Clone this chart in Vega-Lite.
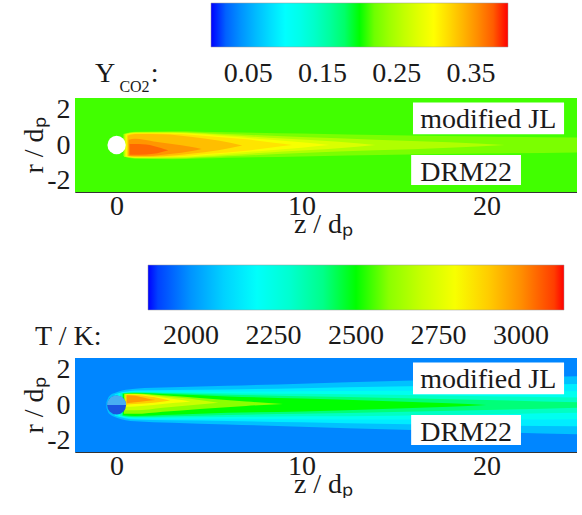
{
"$schema":"https://vega.github.io/schema/vega-lite/v6.json",
"padding":{"left":20,"top":3,"right":0,"bottom":0},
"background":"white",
"bounds":"flush",
"spacing":166,
"config":{
 "view":{"stroke":null},
 "font":"Liberation Serif",
 "axis":{"labelFont":"Liberation Serif","labelFontSize":28,"labelColor":"#1a1a1a","titleFont":"Liberation Serif","titleFontSize":28,"titleFontWeight":"normal","titleColor":"#1a1a1a","grid":false,"domainColor":"#333","domainWidth":1,"tickColor":"#333","tickSize":-4,"labelFlush":false},
 "legend":{"labelFont":"Liberation Serif","labelFontSize":28,"labelColor":"#1a1a1a","labelOverlap":false,"gradientStrokeColor":"#999","gradientStrokeWidth":0.5,"padding":0},
 "text":{"font":"Liberation Serif","color":"#1a1a1a"}
},
"resolve":{"scale":{"color":"independent","x":"independent","y":"independent"},"legend":{"color":"independent"}},
"vconcat":[
{
 "width":502,"height":94,
 "layer":[
  {
   "data":{"values":[
    {"lev":0.207,"z":-2.25,"lo":-2.65,"hi":2.65},{"lev":0.207,"z":24.9,"lo":-2.65,"hi":2.65},
    {"lev":0.225,"z":0.35,"lo":-0.62,"hi":0.62},{"lev":0.225,"z":1,"lo":-0.78,"hi":0.75},{"lev":0.225,"z":3,"lo":-0.8,"hi":0.78},{"lev":0.225,"z":6,"lo":-0.72,"hi":0.72},{"lev":0.225,"z":10,"lo":-0.65,"hi":0.65},{"lev":0.225,"z":15,"lo":-0.55,"hi":0.55},{"lev":0.225,"z":20,"lo":-0.48,"hi":0.48},{"lev":0.225,"z":24.9,"lo":-0.42,"hi":0.42},
    {"lev":0.25,"z":0.4,"lo":-0.66,"hi":0.62},{"lev":0.25,"z":1,"lo":-0.74,"hi":0.72},{"lev":0.25,"z":3,"lo":-0.76,"hi":0.74},{"lev":0.25,"z":6,"lo":-0.64,"hi":0.62},{"lev":0.25,"z":10,"lo":-0.45,"hi":0.45},{"lev":0.25,"z":14,"lo":-0.3,"hi":0.3},{"lev":0.25,"z":18,"lo":-0.15,"hi":0.15},{"lev":0.25,"z":21,"lo":0,"hi":0},
    {"lev":0.275,"z":0.45,"lo":-0.65,"hi":0.6},{"lev":0.275,"z":1,"lo":-0.72,"hi":0.7},{"lev":0.275,"z":3,"lo":-0.72,"hi":0.7},{"lev":0.275,"z":6,"lo":-0.56,"hi":0.55},{"lev":0.275,"z":9,"lo":-0.36,"hi":0.36},{"lev":0.275,"z":12,"lo":-0.18,"hi":0.18},{"lev":0.275,"z":14,"lo":0,"hi":0},
    {"lev":0.295,"z":0.5,"lo":-0.64,"hi":0.58},{"lev":0.295,"z":1,"lo":-0.7,"hi":0.68},{"lev":0.295,"z":3,"lo":-0.68,"hi":0.67},{"lev":0.295,"z":5.5,"lo":-0.52,"hi":0.52},{"lev":0.295,"z":8,"lo":-0.32,"hi":0.32},{"lev":0.295,"z":10,"lo":-0.15,"hi":0.15},{"lev":0.295,"z":11.5,"lo":0,"hi":0},
    {"lev":0.315,"z":0.55,"lo":-0.63,"hi":0.56},{"lev":0.315,"z":1,"lo":-0.68,"hi":0.66},{"lev":0.315,"z":3,"lo":-0.66,"hi":0.64},{"lev":0.315,"z":5,"lo":-0.5,"hi":0.5},{"lev":0.315,"z":7,"lo":-0.32,"hi":0.32},{"lev":0.315,"z":8.5,"lo":-0.12,"hi":0.12},{"lev":0.315,"z":9.5,"lo":0,"hi":0},
    {"lev":0.335,"z":0.6,"lo":-0.62,"hi":0.52},{"lev":0.335,"z":1,"lo":-0.66,"hi":0.62},{"lev":0.335,"z":2.5,"lo":-0.63,"hi":0.6},{"lev":0.335,"z":4,"lo":-0.5,"hi":0.46},{"lev":0.335,"z":5.5,"lo":-0.3,"hi":0.25},{"lev":0.335,"z":6.8,"lo":-0.03,"hi":-0.03},
    {"lev":0.355,"z":0.65,"lo":-0.6,"hi":0.3},{"lev":0.355,"z":1,"lo":-0.62,"hi":0.35},{"lev":0.355,"z":2,"lo":-0.6,"hi":0.2},{"lev":0.355,"z":3,"lo":-0.5,"hi":0.05},{"lev":0.355,"z":4,"lo":-0.35,"hi":-0.1},{"lev":0.355,"z":4.6,"lo":-0.22,"hi":-0.22},
    {"lev":0.375,"z":0.7,"lo":-0.55,"hi":0.05},{"lev":0.375,"z":1.2,"lo":-0.55,"hi":0.05},{"lev":0.375,"z":2,"lo":-0.5,"hi":-0.05},{"lev":0.375,"z":2.8,"lo":-0.3,"hi":-0.3}
   ]},
   "mark":{"type":"area","interpolate":"monotone"},
   "encoding":{
    "x":{"field":"z","type":"quantitative","scale":{"domain":[-2.25,24.9],"nice":false,"zero":false},"axis":{"values":[0,10,20],"title":"z / dₚ","titleX":248,"titleY":40,"titleBaseline":"alphabetic","labelBaseline":"alphabetic","labelPadding":26}},
    "y":{"field":"lo","type":"quantitative","stack":null,"scale":{"domain":[-2.65,2.65],"nice":false,"zero":false},"axis":{"values":[-2,0,2],"title":"r / dₚ","titleX":-33,"titleY":47,"titleAngle":-90,"titleBaseline":"alphabetic","titleAlign":"center","labelPadding":9,"labelExpr":"replace(datum.label,'−','-')"}},
    "y2":{"field":"hi"},
    "detail":{"field":"lev"},
    "color":{"field":"lev","type":"quantitative","scale":{"domain":[0,0.1,0.2,0.3,0.4],"range":["#0000ff","#00ffff","#00ff00","#ffff00","#ff0000"]},
     "legend":{"orient":"none","legendX":136,"legendY":-95,"direction":"horizontal","gradientLength":297,"gradientThickness":44,"title":null,"values":[0.05,0.15,0.25,0.35],"format":".2f","labelOffset":13}}
   }
  },
  {"data":{"values":[{}]},"mark":{"type":"point","shape":"circle","filled":true,"color":"white","opacity":1,"size":336},
   "encoding":{"x":{"datum":0,"type":"quantitative"},"y":{"datum":0,"type":"quantitative"}}},
  {"data":{"values":[{}]},"mark":{"type":"rect","color":"white"},
   "encoding":{"x":{"datum":16.03,"type":"quantitative"},"x2":{"datum":24.2},"y":{"datum":2.4,"type":"quantitative"},"y2":{"datum":0.6}}},
  {"data":{"values":[{}]},"mark":{"type":"rect","color":"white"},
   "encoding":{"x":{"datum":15.93,"type":"quantitative"},"x2":{"datum":21.87},"y":{"datum":-0.56,"type":"quantitative"},"y2":{"datum":-2.25}}},
  {"data":{"values":[{}]},"mark":{"type":"text","text":"modified JL","fontSize":28,"align":"center","baseline":"alphabetic"},
   "encoding":{"x":{"datum":20.1,"type":"quantitative"},"y":{"datum":0.96,"type":"quantitative"}}},
  {"data":{"values":[{}]},"mark":{"type":"text","text":"DRM22","fontSize":28,"align":"center","baseline":"alphabetic"},
   "encoding":{"x":{"datum":18.9,"type":"quantitative"},"y":{"datum":-2.03,"type":"quantitative"}}},
  {"data":{"values":[{}]},"mark":{"type":"text","text":"Y","fontSize":28,"align":"left","baseline":"alphabetic"},
   "encoding":{"x":{"datum":-1.17,"type":"quantitative"},"y":{"datum":3.55,"type":"quantitative"}}},
  {"data":{"values":[{}]},"mark":{"type":"text","text":"CO2","fontSize":16,"align":"left","baseline":"alphabetic"},
   "encoding":{"x":{"datum":0.15,"type":"quantitative"},"y":{"datum":2.99,"type":"quantitative"}}},
  {"data":{"values":[{}]},"mark":{"type":"text","text":":","fontSize":28,"align":"left","baseline":"alphabetic"},
   "encoding":{"x":{"datum":1.85,"type":"quantitative"},"y":{"datum":3.55,"type":"quantitative"}}}
 ]
},
{
 "width":502,"height":94,
 "layer":[
  {
   "data":{"values":[
    {"lev":1980,"z":-2.25,"lo":-2.65,"hi":2.65},{"lev":1980,"z":24.9,"lo":-2.65,"hi":2.65},
    {"lev":2070,"z":-0.55,"lo":-0.15,"hi":0.15},{"lev":2070,"z":-0.4,"lo":-0.5,"hi":0.5},{"lev":2070,"z":0,"lo":-0.72,"hi":0.72},{"lev":2070,"z":1,"lo":-0.92,"hi":0.92},{"lev":2070,"z":3,"lo":-1.0,"hi":1.0},{"lev":2070,"z":6,"lo":-1.1,"hi":1.08},{"lev":2070,"z":10,"lo":-1.22,"hi":1.2},{"lev":2070,"z":15,"lo":-1.38,"hi":1.35},{"lev":2070,"z":20,"lo":-1.52,"hi":1.5},{"lev":2070,"z":24.9,"lo":-1.65,"hi":1.62},
    {"lev":2150,"z":-0.1,"lo":-0.6,"hi":0.6},{"lev":2150,"z":1,"lo":-0.82,"hi":0.82},{"lev":2150,"z":3,"lo":-0.86,"hi":0.85},{"lev":2150,"z":6,"lo":-0.9,"hi":0.88},{"lev":2150,"z":10,"lo":-0.97,"hi":0.95},{"lev":2150,"z":15,"lo":-1.07,"hi":1.05},{"lev":2150,"z":20,"lo":-1.15,"hi":1.12},{"lev":2150,"z":24.9,"lo":-1.2,"hi":1.18},
    {"lev":2230,"z":0.1,"lo":-0.64,"hi":0.66},{"lev":2230,"z":1,"lo":-0.76,"hi":0.76},{"lev":2230,"z":3,"lo":-0.77,"hi":0.76},{"lev":2230,"z":6,"lo":-0.78,"hi":0.76},{"lev":2230,"z":10,"lo":-0.8,"hi":0.78},{"lev":2230,"z":15,"lo":-0.82,"hi":0.8},{"lev":2230,"z":20,"lo":-0.82,"hi":0.8},{"lev":2230,"z":24.9,"lo":-0.8,"hi":0.78},
    {"lev":2320,"z":0.2,"lo":-0.62,"hi":0.66},{"lev":2320,"z":1,"lo":-0.72,"hi":0.72},{"lev":2320,"z":3,"lo":-0.7,"hi":0.7},{"lev":2320,"z":6,"lo":-0.67,"hi":0.66},{"lev":2320,"z":10,"lo":-0.64,"hi":0.63},{"lev":2320,"z":15,"lo":-0.6,"hi":0.58},{"lev":2320,"z":20,"lo":-0.52,"hi":0.5},{"lev":2320,"z":24.9,"lo":-0.44,"hi":0.42},
    {"lev":2420,"z":0.3,"lo":-0.6,"hi":0.65},{"lev":2420,"z":1,"lo":-0.68,"hi":0.7},{"lev":2420,"z":3,"lo":-0.64,"hi":0.66},{"lev":2420,"z":6,"lo":-0.56,"hi":0.58},{"lev":2420,"z":10,"lo":-0.5,"hi":0.5},{"lev":2420,"z":15,"lo":-0.4,"hi":0.4},{"lev":2420,"z":20,"lo":-0.28,"hi":0.28},{"lev":2420,"z":24.9,"lo":-0.15,"hi":0.15},
    {"lev":2500,"z":0.35,"lo":-0.58,"hi":0.64},{"lev":2500,"z":1,"lo":-0.62,"hi":0.68},{"lev":2500,"z":3,"lo":-0.55,"hi":0.6},{"lev":2500,"z":6,"lo":-0.44,"hi":0.48},{"lev":2500,"z":10,"lo":-0.36,"hi":0.36},{"lev":2500,"z":14,"lo":-0.24,"hi":0.24},{"lev":2500,"z":18,"lo":-0.1,"hi":0.1},{"lev":2500,"z":20,"lo":0,"hi":0},
    {"lev":2600,"z":0.4,"lo":-0.5,"hi":0.63},{"lev":2600,"z":1,"lo":-0.5,"hi":0.65},{"lev":2600,"z":2.5,"lo":-0.38,"hi":0.55},{"lev":2600,"z":4.5,"lo":-0.22,"hi":0.4},{"lev":2600,"z":7,"lo":-0.05,"hi":0.2},{"lev":2600,"z":9,"lo":0.05,"hi":0.05},
    {"lev":2700,"z":0.45,"lo":-0.3,"hi":0.62},{"lev":2700,"z":1,"lo":-0.3,"hi":0.62},{"lev":2700,"z":2.5,"lo":-0.15,"hi":0.5},{"lev":2700,"z":4,"lo":-0.02,"hi":0.35},{"lev":2700,"z":5.5,"lo":0.12,"hi":0.12},
    {"lev":2800,"z":0.5,"lo":-0.1,"hi":0.6},{"lev":2800,"z":1,"lo":-0.08,"hi":0.6},{"lev":2800,"z":2,"lo":0,"hi":0.5},{"lev":2800,"z":3.2,"lo":0.12,"hi":0.32},{"lev":2800,"z":4,"lo":0.2,"hi":0.2},
    {"lev":2900,"z":0.5,"lo":0.02,"hi":0.58},{"lev":2900,"z":1,"lo":0.05,"hi":0.57},{"lev":2900,"z":2,"lo":0.12,"hi":0.45},{"lev":2900,"z":2.9,"lo":0.25,"hi":0.25},
    {"lev":2980,"z":0.55,"lo":0.1,"hi":0.55},{"lev":2980,"z":1,"lo":0.15,"hi":0.52},{"lev":2980,"z":1.6,"lo":0.22,"hi":0.38},{"lev":2980,"z":2.1,"lo":0.28,"hi":0.28}
   ]},
   "mark":{"type":"area","interpolate":"monotone"},
   "encoding":{
    "x":{"field":"z","type":"quantitative","scale":{"domain":[-2.25,24.9],"nice":false,"zero":false},"axis":{"values":[0,10,20],"title":"z / dₚ","titleX":248,"titleY":40,"titleBaseline":"alphabetic","labelBaseline":"alphabetic","labelPadding":26}},
    "y":{"field":"lo","type":"quantitative","stack":null,"scale":{"domain":[-2.65,2.65],"nice":false,"zero":false},"axis":{"values":[-2,0,2],"title":"r / dₚ","titleX":-33,"titleY":47,"titleAngle":-90,"titleBaseline":"alphabetic","titleAlign":"center","labelPadding":9,"labelExpr":"replace(datum.label,'−','-')"}},
    "y2":{"field":"hi"},
    "detail":{"field":"lev"},
    "color":{"field":"lev","type":"quantitative","scale":{"domain":[1870,2185,2500,2815,3130],"range":["#0000ff","#00ffff","#00ff00","#ffff00","#ff0000"]},
     "legend":{"orient":"none","legendX":73,"legendY":-93,"direction":"horizontal","gradientLength":416,"gradientThickness":45,"title":null,"values":[2000,2250,2500,2750,3000],"format":"d","labelOffset":12}}
   }
  },
  {"data":{"values":[{}]},"mark":{"type":"point","shape":"circle","filled":true,"color":"#1a55e0","opacity":1,"size":361},
   "encoding":{"x":{"datum":0,"type":"quantitative"},"y":{"datum":0,"type":"quantitative"}}},
  {"data":{"values":[{}]},"mark":{"type":"point","shape":"M-1,0A1,1,0,0,1,1,0Z","filled":true,"color":"#48aef2","opacity":1,"size":361},
   "encoding":{"x":{"datum":0,"type":"quantitative"},"y":{"datum":0,"type":"quantitative"}}},
  {"data":{"values":[{}]},"mark":{"type":"rect","color":"white"},
   "encoding":{"x":{"datum":16.03,"type":"quantitative"},"x2":{"datum":24.2},"y":{"datum":2.4,"type":"quantitative"},"y2":{"datum":0.6}}},
  {"data":{"values":[{}]},"mark":{"type":"rect","color":"white"},
   "encoding":{"x":{"datum":15.93,"type":"quantitative"},"x2":{"datum":21.87},"y":{"datum":-0.56,"type":"quantitative"},"y2":{"datum":-2.25}}},
  {"data":{"values":[{}]},"mark":{"type":"text","text":"modified JL","fontSize":28,"align":"center","baseline":"alphabetic"},
   "encoding":{"x":{"datum":20.1,"type":"quantitative"},"y":{"datum":0.96,"type":"quantitative"}}},
  {"data":{"values":[{}]},"mark":{"type":"text","text":"DRM22","fontSize":28,"align":"center","baseline":"alphabetic"},
   "encoding":{"x":{"datum":18.9,"type":"quantitative"},"y":{"datum":-2.03,"type":"quantitative"}}},
  {"data":{"values":[{}]},"mark":{"type":"text","text":"T / K:","fontSize":28,"align":"left","baseline":"alphabetic"},
   "encoding":{"x":{"datum":-4.41,"type":"quantitative"},"y":{"datum":3.38,"type":"quantitative"}}}
 ]
}
]
}
